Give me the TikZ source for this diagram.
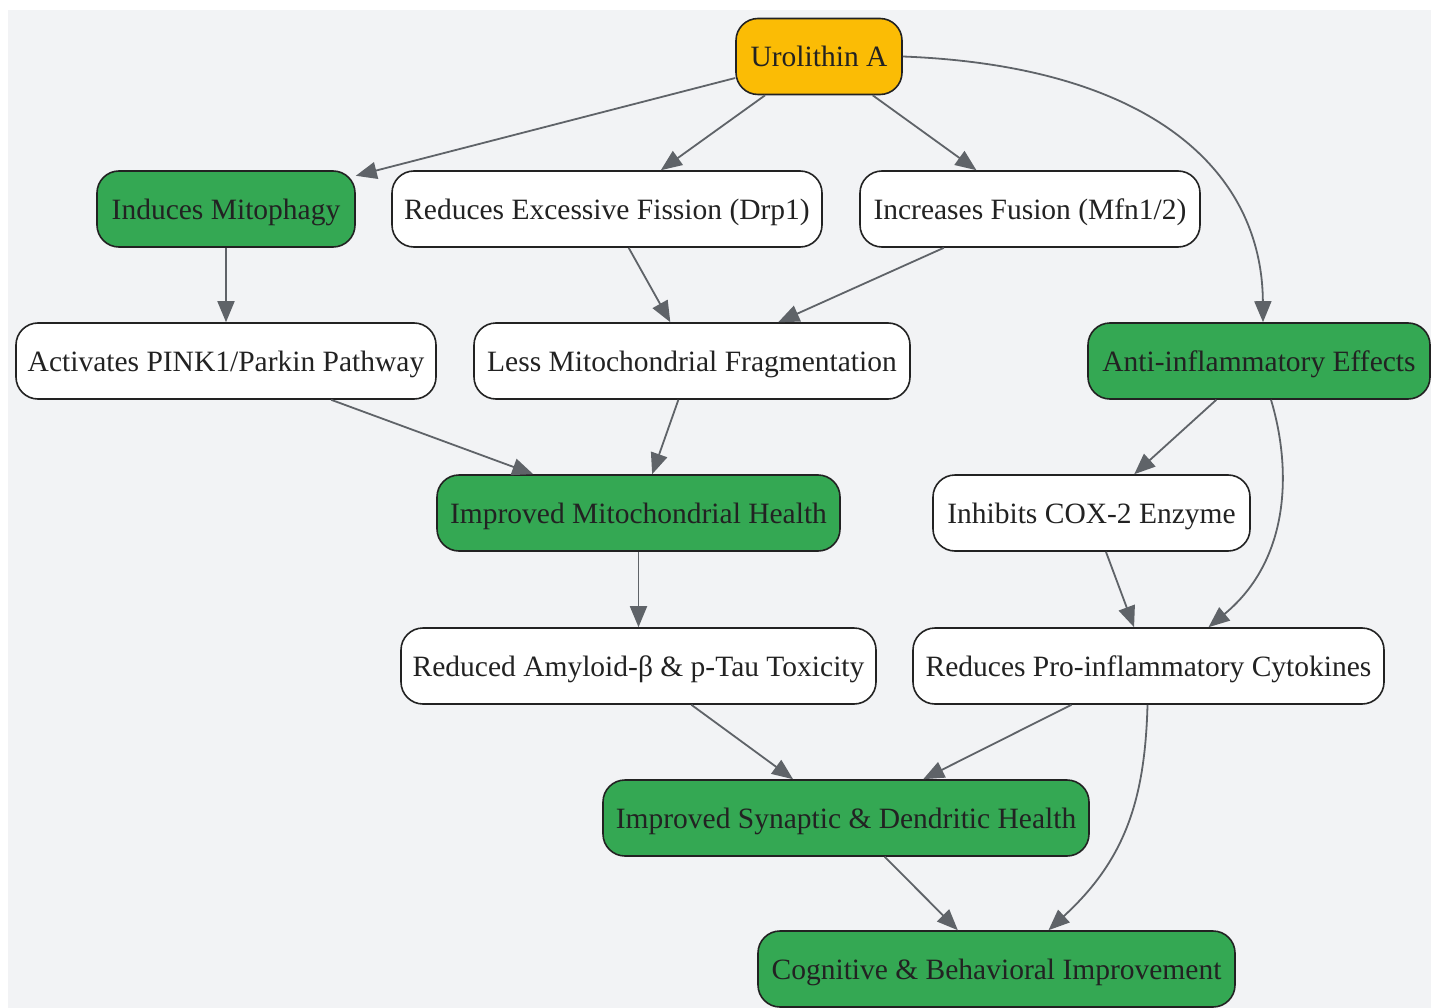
\documentclass[tikz,border=0pt]{standalone}
\usepackage{fontspec}
\setmainfont{Liberation Serif}
\usetikzlibrary{arrows.meta}
\definecolor{bggray}{HTML}{F2F3F5}
\definecolor{gfill}{HTML}{34A853}
\definecolor{yfill}{HTML}{FBBC05}
\definecolor{edgec}{HTML}{5F6368}
\definecolor{txt}{HTML}{222222}
\tikzset{
  base/.style={draw=txt, line width=1.6pt, rounded corners=22pt, minimum height=76pt,
    inner xsep=10pt, text depth=0pt, text=txt, font=\fontsize{29.5}{35}\selectfont, anchor=center},
  whitebox/.style={base, fill=white},
  greenbox/.style={base, fill=gfill},
  yellowbox/.style={base, fill=yfill},
  conn/.style={draw=edgec, line width=1.8pt, -{Triangle[length=21pt,width=17pt]}}
}
\begin{document}
\begin{tikzpicture}[x=1pt,y=-1pt]
\useasboundingbox (0,0) rectangle (1431,1008);
\fill[bggray] (8,10) rectangle (1431,1008);

\node[yellowbox, minimum width=166pt] (ua) at (819,56.5) {Urolithin A};
\node[greenbox, minimum width=258pt] (mito) at (226,209) {Induces Mitophagy};
\node[whitebox, minimum width=430pt] (fis) at (607,209) {Reduces Excessive Fission (Drp1)};
\node[whitebox, minimum width=340pt] (fus) at (1030,209) {Increases Fusion (Mfn1/2)};
\node[whitebox, minimum width=420pt] (pink) at (226,361) {Activates PINK1/Parkin Pathway};
\node[whitebox, minimum width=436pt] (frag) at (692,361) {Less Mitochondrial Fragmentation};
\node[greenbox, minimum width=342pt] (anti) at (1259,361) {Anti-inflammatory Effects};
\node[greenbox, minimum width=403pt] (imh) at (638.5,513) {Improved Mitochondrial Health};
\node[whitebox, minimum width=317pt] (cox) at (1091.5,513) {Inhibits COX-2 Enzyme};
\node[whitebox, minimum width=475pt] (amy) at (638.5,666) {Reduced Amyloid-β \& p-Tau Toxicity};
\node[whitebox, minimum width=471pt] (cyto) at (1148.5,666) {Reduces Pro-inflammatory Cytokines};
\node[greenbox, minimum width=486pt] (syn) at (846,818) {Improved Synaptic \& Dendritic Health};
\node[greenbox, minimum width=477pt] (cog) at (996.5,969) {Cognitive \& Behavioral Improvement};

\draw[conn] (ua) -- (mito);
\draw[conn] (ua) -- (fis);
\draw[conn] (ua) -- (fus);
\draw[conn] (ua.east) .. controls (1150,66) and (1262,170) .. ([xshift=4pt]anti.north);
\draw[conn] (mito) -- (pink);
\draw[conn] (fis) -- (frag);
\draw[conn] (fus) -- (frag);
\draw[conn] (pink) -- (imh);
\draw[conn] (frag) -- (imh);
\draw[conn] (imh) -- (amy);
\draw[conn] (anti) -- (cox);
\draw[conn] ([xshift=12pt]anti.south) .. controls (1292,470) and (1290,560) .. ([xshift=60pt]cyto.north);
\draw[conn] (cox) -- (cyto);
\draw[conn] (amy) -- (syn);
\draw[conn] (cyto) -- (syn);
\draw[conn] (syn) -- (cog);
\draw[conn] ([xshift=-1pt]cyto.south) .. controls (1145,800) and (1125,860) .. ([xshift=52pt]cog.north);
\end{tikzpicture}
\end{document}
